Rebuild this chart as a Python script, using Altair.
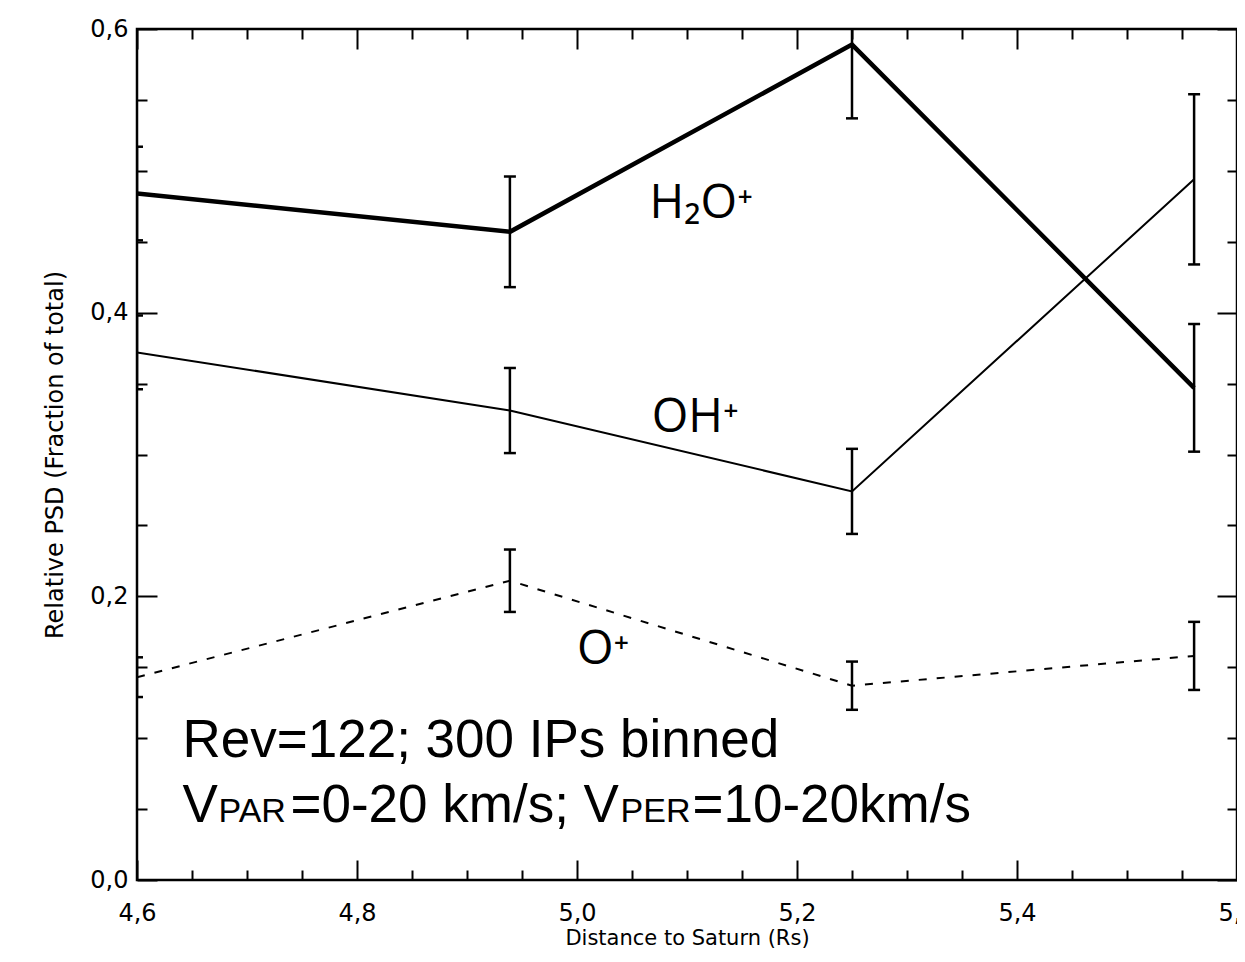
import altair as alt
import pandas as pd

# ---- data ----
distance = [4.6, 4.939, 5.25, 5.561]
h2o = [0.484, 0.457, 0.589, 0.347]
h2o_err = [0.033, 0.039, 0.052, 0.045]
oh = [0.372, 0.331, 0.274, 0.494]
oh_err = [0.026, 0.030, 0.030, 0.060]
oplus = [0.143, 0.211, 0.137, 0.158]
oplus_err = [0.014, 0.022, 0.017, 0.024]
species_names = ["H2O+", "OH+", "O+"]

x_major = [4.6, 4.8, 5.0, 5.2, 5.4, 5.6]
x_minor = [4.65, 4.7, 4.75, 4.85, 4.9, 4.95, 5.05, 5.1, 5.15,
           5.25, 5.3, 5.35, 5.45, 5.5, 5.55]
y_major = [0.0, 0.2, 0.4, 0.6]
y_minor = [0.05, 0.1, 0.15, 0.25, 0.3, 0.35, 0.45, 0.5, 0.55]

# annotation anchors (data coordinates)
lbl_h2o = (5.066, 0.467)
lbl_oh = (5.068, 0.316)
lbl_o = (5.000, 0.152)
lbl_rev = (4.6414, 0.0867)
lbl_v = (4.6414, 0.0409)

rows = []
for name, vals, errs in zip(species_names, [h2o, oh, oplus], [h2o_err, oh_err, oplus_err]):
    for xv, yv, ev in zip(distance, vals, errs):
        rows.append({"species": name, "x": xv, "y": yv, "lo": yv - ev, "hi": yv + ev})
df = pd.DataFrame(rows)

xs = alt.Scale(domain=[4.6, 5.6], nice=False, zero=False)
ys = alt.Scale(domain=[0.0, 0.6], nice=False, zero=False)

LBL = "replace(format(datum.value, '.1f'), '.', ',')"
AXFONT = "DejaVu Sans"

def tick_axis(orient, values, size):
    return alt.Axis(orient=orient, values=values, offset=-size, tickSize=size,
                    tickWidth=2, tickColor="black", domain=False, grid=False,
                    labels=False, title=None)

ax_bottom = alt.Axis(orient="bottom", values=x_major, offset=-20, tickSize=20,
                     tickWidth=2, tickColor="black", domain=False, grid=False,
                     labelExpr=LBL, labelFont=AXFONT, labelFontSize=24,
                     labelColor="black", labelPadding=21, labelFlush=False,
                     labelOverlap=False,
                     title="Distance to Saturn (Rs)", titleFont=AXFONT,
                     titleFontSize=21, titleFontWeight="normal", titleColor="black",
                     titleX=550, titleY=67)
ax_left = alt.Axis(orient="left", values=y_major, offset=-20, tickSize=20,
                   tickWidth=2, tickColor="black", domain=False, grid=False,
                   labelExpr=LBL, labelFont=AXFONT, labelFontSize=24,
                   labelColor="black", labelPadding=9, labelFlush=False,
                   labelOverlap=False,
                   title="Relative PSD (Fraction of total)", titleFont=AXFONT,
                   titleFontSize=24, titleFontWeight="normal", titleColor="black",
                   titleX=-90)

base = alt.Chart(df)

def X(axis=None):
    return alt.X("x:Q", scale=xs, axis=axis)

def Y(field="y", axis=None):
    return alt.Y(f"{field}:Q", scale=ys, axis=axis)

line_h2o = base.transform_filter("datum.species == 'H2O+'").mark_line(
    color="black", strokeWidth=4.5, clip=True).encode(x=X(ax_bottom), y=Y(axis=ax_left))
line_oh = base.transform_filter("datum.species == 'OH+'").mark_line(
    color="black", strokeWidth=2, clip=True).encode(x=X(), y=Y())
line_o = base.transform_filter("datum.species == 'O+'").mark_line(
    color="black", strokeWidth=2, strokeDash=[8, 10], clip=True).encode(x=X(), y=Y())

err_rule = base.mark_rule(color="black", strokeWidth=2.5, clip=True).encode(
    x=X(), y=Y("lo"), y2="hi:Q")
cap_lo = base.mark_tick(orient="horizontal", size=12, thickness=2.5, color="black",
                        opacity=1, clip=True).encode(x=X(), y=Y("lo"))
cap_hi = base.mark_tick(orient="horizontal", size=12, thickness=2.5, color="black",
                        opacity=1, clip=True).encode(x=X(), y=Y("hi"))

# extra tick-only axes (ticks pointing inward, IDL style)
def ghost(ax_x, ax_y):
    return base.mark_point(opacity=0).encode(x=X(ax_x), y=Y(axis=ax_y))

g1 = ghost(tick_axis("top", x_major, 20), tick_axis("right", y_major, 20))
g2 = ghost(tick_axis("bottom", x_minor, 10), tick_axis("left", y_minor, 10))
g3 = ghost(tick_axis("top", x_minor, 10), tick_axis("right", y_minor, 10))

def txt(pos, text, font, size, dx=0):
    d = pd.DataFrame({"x": [pos[0]], "y": [pos[1]], "t": [text]})
    return alt.Chart(d).mark_text(align="left", baseline="alphabetic", font=font,
                                  fontSize=size, color="black", dx=dx).encode(
        x=X(), y=Y(), text="t:N")

CHEM = "Open Sans"
NOTE = "Liberation Sans"
texts = [
    txt(lbl_h2o, "H₂O⁺", CHEM, 47),
    txt(lbl_oh, "OH⁺", CHEM, 47),
    txt(lbl_o, "O⁺", CHEM, 47),
    txt(lbl_rev, "Rev=122; 300 IPs binned", NOTE, 53),
    txt(lbl_v, "V", NOTE, 53, 0),
    txt(lbl_v, "PAR", NOTE, 34, 36),
    txt(lbl_v, "=0-20 km/s; V", NOTE, 53, 108),
    txt(lbl_v, "PER", NOTE, 34, 438),
    txt(lbl_v, "=10-20km/s", NOTE, 53, 510),
]

chart = alt.layer(line_h2o, line_oh, line_o, err_rule, cap_lo, cap_hi,
                  g1, g2, g3, *texts).resolve_axis(
    x="independent", y="independent"
).properties(
    width=1100, height=851,
    autosize=alt.AutoSizeParams(type="none"),
    padding={"left": 129, "top": 21, "right": 0, "bottom": 72},
    background="white",
).configure_view(stroke="black", strokeWidth=2.5, fill="white")

chart.save("out.html", embed_options={"renderer": "svg", "actions": False})
